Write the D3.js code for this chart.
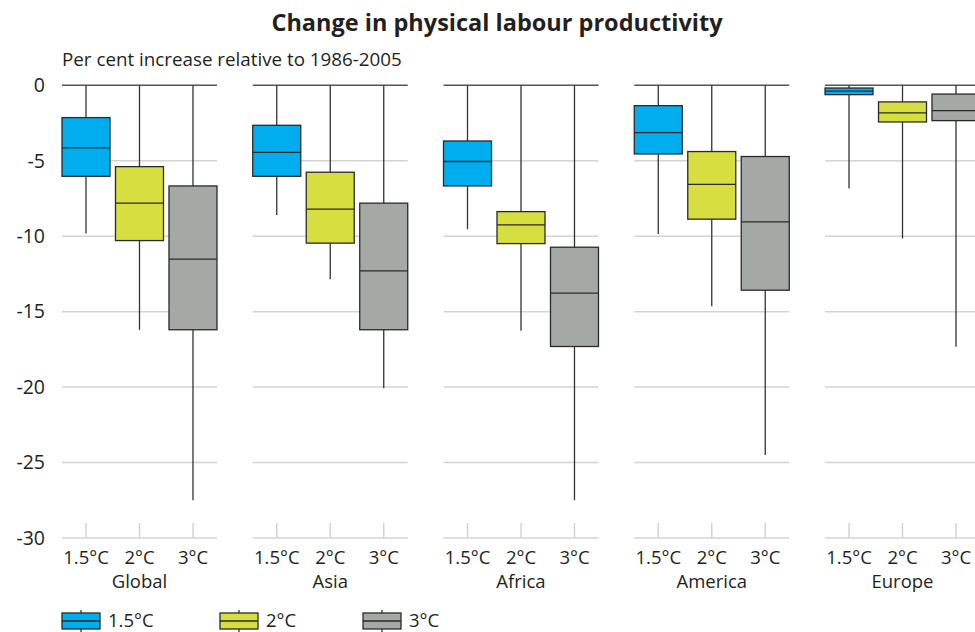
<!DOCTYPE html>
<html>
<head>
<meta charset="utf-8">
<script src="https://cdn.jsdelivr.net/npm/d3@7"></script>
<style>
  body { margin: 0; background: #fff; }
  svg { display: block; font-family: "Open Sans", sans-serif; }
</style>
</head>
<body>
<div id="chart"></div>
<script>
// regions (panels) and warming scenarios
const regions = ["Global", "Asia", "Africa", "America", "Europe"];
const scenarios = ["1.5°C", "2°C", "3°C"];
const colors = ["#00aeef", "#d6df3f", "#a5a9a5"];

// per scenario, one value per region (Global, Asia, Africa, America, Europe)
const whiskerMax = [
  [0, 0, 0, 0, 0],
  [0, 0, 0, 0, 0],
  [0, 0, 0, 0, 0]
];
const upperQ = [
  [-2.14, -2.65, -3.69, -1.35, -0.18],
  [-5.39, -5.76, -8.37, -4.39, -1.1],
  [-6.67, -7.81, -10.73, -4.72, -0.58]
];
const medians = [
  [-4.15, -4.44, -5.05, -3.13, -0.38],
  [-7.81, -8.2, -9.25, -6.56, -1.83],
  [-11.52, -12.3, -13.77, -9.05, -1.68]
];
const lowerQ = [
  [-6.03, -6.03, -6.67, -4.55, -0.62],
  [-10.29, -10.46, -10.49, -8.87, -2.43],
  [-16.2, -16.2, -17.31, -13.58, -2.34]
];
const whiskerMin = [
  [-9.82, -8.6, -9.54, -9.85, -6.84],
  [-16.2, -12.85, -16.27, -14.64, -10.15],
  [-27.5, -20.07, -27.5, -24.5, -17.33]
];
const yTicks = [0, -5, -10, -15, -20, -25, -30];

const width = 975;
const height = 632;
const boxWidth = 48;
const textColor = "#231f20";

const svg = d3.select("#chart").append("svg")
  .attr("width", width)
  .attr("height", height);

const y = d3.scaleLinear().domain([0, -30]).range([85.3, 538]);

const x0 = d3.scaleBand()
  .domain(regions)
  .range([62, 980])
  .paddingInner(0.1875)
  .paddingOuter(0);

const x1 = d3.scalePoint()
  .domain(scenarios)
  .range([boxWidth / 2, x0.bandwidth() - boxWidth / 2]);

// title and subtitle
svg.append("text")
  .attr("x", 497)
  .attr("y", 31)
  .attr("text-anchor", "middle")
  .attr("font-size", "23.5px")
  .attr("font-weight", "bold")
  .attr("fill", textColor)
  .text("Change in physical labour productivity");

svg.append("text")
  .attr("x", 62)
  .attr("y", 66)
  .attr("font-size", "18.8px")
  .attr("fill", textColor)
  .text("Per cent increase relative to 1986-2005");

// y tick labels
svg.selectAll(".ylab")
  .data(yTicks)
  .join("text")
  .attr("class", "ylab")
  .attr("x", 45)
  .attr("y", d => y(d))
  .attr("dy", "0.35em")
  .attr("text-anchor", "end")
  .attr("font-size", "19.5px")
  .attr("fill", textColor)
  .text(d => d);

// one group per region
const panels = svg.selectAll(".panel")
  .data(regions)
  .join("g")
  .attr("class", "panel")
  .attr("transform", d => `translate(${x0(d)},0)`);

// light gridlines
panels.selectAll(".grid")
  .data(yTicks.filter(t => t !== 0))
  .join("line")
  .attr("class", "grid")
  .attr("x1", 0)
  .attr("x2", x0.bandwidth())
  .attr("y1", d => y(d))
  .attr("y2", d => y(d))
  .attr("stroke", "#d3d3d3")
  .attr("stroke-width", 1.5);

// tick marks on the bottom line
panels.selectAll(".xtick")
  .data(scenarios)
  .join("line")
  .attr("class", "xtick")
  .attr("x1", d => x1(d))
  .attr("x2", d => x1(d))
  .attr("y1", y(-30) - 15)
  .attr("y2", y(-30))
  .attr("stroke", "#d3d3d3")
  .attr("stroke-width", 1.5);

// zero line
panels.append("line")
  .attr("x1", 0)
  .attr("x2", x0.bandwidth())
  .attr("y1", y(0))
  .attr("y2", y(0))
  .attr("stroke", "#555")
  .attr("stroke-width", 1.5);

// boxes
panels.each(function(region, ri) {
  const g = d3.select(this);
  scenarios.forEach((s, si) => {
    const cx = x1(s);
    g.append("line")
      .attr("x1", cx).attr("x2", cx)
      .attr("y1", y(whiskerMax[si][ri]))
      .attr("y2", y(whiskerMin[si][ri]))
      .attr("stroke", "#333")
      .attr("stroke-width", 1.3);
    g.append("rect")
      .attr("x", cx - boxWidth / 2)
      .attr("y", y(upperQ[si][ri]))
      .attr("width", boxWidth)
      .attr("height", y(lowerQ[si][ri]) - y(upperQ[si][ri]))
      .attr("fill", colors[si])
      .attr("stroke", "#2a2a2a")
      .attr("stroke-width", 1.3);
    g.append("line")
      .attr("x1", cx - boxWidth / 2).attr("x2", cx + boxWidth / 2)
      .attr("y1", y(medians[si][ri]))
      .attr("y2", y(medians[si][ri]))
      .attr("stroke", "#2a2a2a")
      .attr("stroke-width", 1.3);
  });
});

// scenario labels and region names
panels.selectAll(".slab")
  .data(scenarios)
  .join("text")
  .attr("class", "slab")
  .attr("x", d => x1(d))
  .attr("y", 564)
  .attr("text-anchor", "middle")
  .attr("font-size", "18.5px")
  .attr("fill", textColor)
  .text(d => d);

panels.append("text")
  .attr("x", x0.bandwidth() / 2)
  .attr("y", 588)
  .attr("text-anchor", "middle")
  .attr("font-size", "18.5px")
  .attr("fill", textColor)
  .text(d => d);

// legend
const legendX = [62, 220, 363];
const legend = svg.selectAll(".legend")
  .data(scenarios)
  .join("g")
  .attr("class", "legend")
  .attr("transform", (d, i) => `translate(${legendX[i]},613)`);

legend.append("line")
  .attr("x1", 19).attr("x2", 19)
  .attr("y1", -3).attr("y2", 19)
  .attr("stroke", "#333")
  .attr("stroke-width", 1.3);

legend.append("rect")
  .attr("width", 38)
  .attr("height", 16)
  .attr("fill", (d, i) => colors[i])
  .attr("stroke", "#2a2a2a")
  .attr("stroke-width", 1.3);

legend.append("line")
  .attr("x1", 0).attr("x2", 38)
  .attr("y1", 8).attr("y2", 8)
  .attr("stroke", "#2a2a2a")
  .attr("stroke-width", 1.3);

legend.append("text")
  .attr("x", 46)
  .attr("y", 14)
  .attr("font-size", "18.5px")
  .attr("fill", textColor)
  .text(d => d);
</script>
</body>
</html>
